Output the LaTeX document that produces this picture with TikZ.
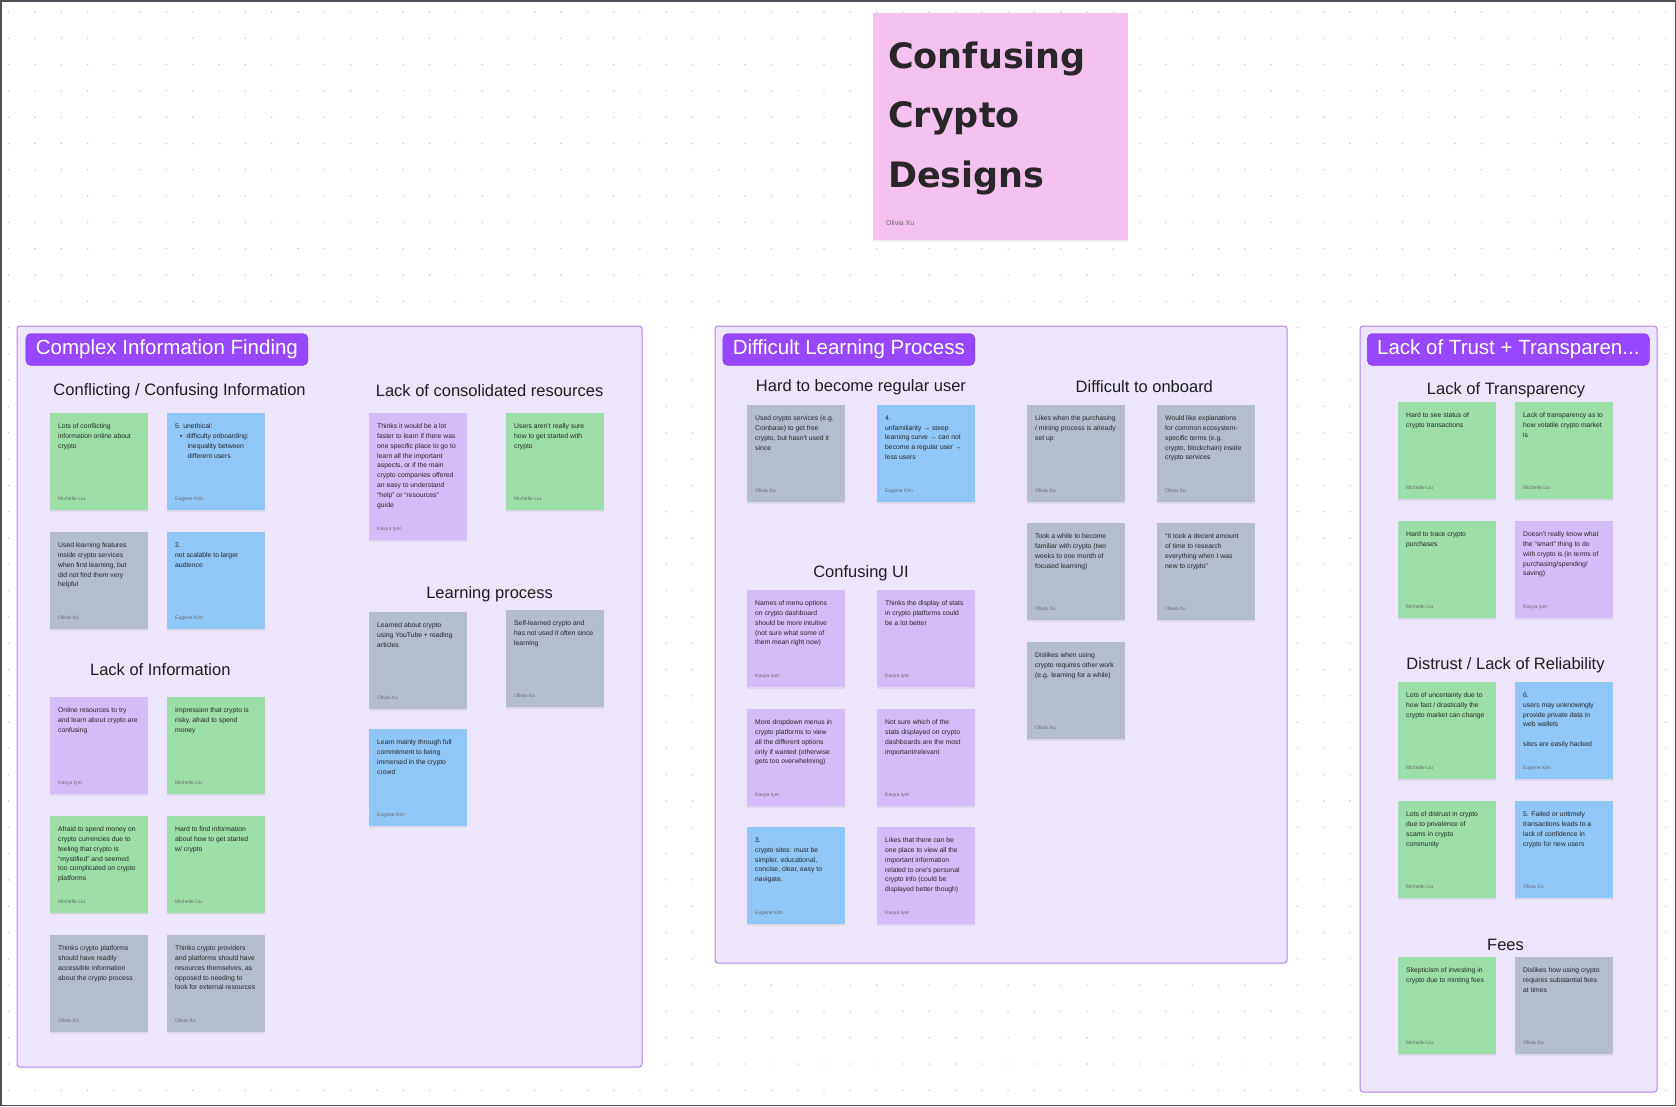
\documentclass[tikz,border=0pt]{standalone}
\usepackage{fontspec}
\setmainfont{Liberation Sans}
\newfontfamily\titlefont{DejaVu Sans}
\usetikzlibrary{shadows}

\definecolor{gridgray}{RGB}{200,200,204}
\definecolor{framegray}{RGB}{80,80,86}
\definecolor{panelfill}{RGB}{237,229,252}
\definecolor{panelline}{RGB}{180,128,247}
\definecolor{tagfill}{RGB}{151,71,255}
\definecolor{tagline}{RGB}{126,52,232}
\definecolor{greennote}{RGB}{156,222,167}
\definecolor{bluenote}{RGB}{143,199,248}
\definecolor{graynote}{RGB}{179,189,205}
\definecolor{purplenote}{RGB}{212,187,249}
\definecolor{pinknote}{RGB}{245,193,238}
\definecolor{notefg}{RGB}{38,38,40}
\definecolor{authorfg}{RGB}{105,105,110}
\definecolor{headfg}{RGB}{30,30,30}
\definecolor{titlefg}{RGB}{40,38,40}

% one sticky: name, corner, pad style, text, author
\newcommand{\stickynote}[5]{%
    \node[#3] (#1) at (#2) {};
    \node[notetext] (#1-text) at ([xshift=8pt, yshift=-10.5pt]#1.north west) {#4};
    \node[noteauthor] (#1-author) at ([xshift=8pt, yshift=9.5pt]#1.south west) {#5};
}

\begin{document}
\begin{tikzpicture}[
        x=1pt, y=-1pt,
        panel/.style={draw=panelline, fill=panelfill, line width=1pt, rounded corners=3pt},
        tag/.style={
                draw=tagline, fill=tagfill, rounded corners=5pt,
                text=white, anchor=west,
                font=\fontsize{20.5}{24}\selectfont,
                minimum height=32pt, inner xsep=8.5pt
            },
        heading/.style={text=headfg, inner sep=0pt, font=\fontsize{16.5}{20}\selectfont},
        sticky/.style={
                anchor=north west, inner sep=0pt,
                minimum width=98pt, minimum height=97pt,
                drop shadow={opacity=0.12, shadow xshift=0pt, shadow yshift=-1.5pt}
            },
        greenpad/.style={sticky, fill=greennote},
        bluepad/.style={sticky, fill=bluenote},
        graypad/.style={sticky, fill=graynote},
        purplepad/.style={sticky, fill=purplenote},
        pinkpad/.style={sticky, fill=pinknote},
        notetext/.style={
                anchor=north west, inner sep=0pt, align=left,
                text=notefg, font=\fontsize{6.8}{9.8}\selectfont
            },
        noteauthor/.style={anchor=base west, inner sep=0pt, text=authorfg, font=\fontsize{5.1}{6}\selectfont},
        titletext/.style={anchor=base west, inner sep=0pt, text=titlefg, font=\titlefont\bfseries\fontsize{35}{40}\selectfont}
    ]

    \useasboundingbox (0,0) rectangle (1676,1106);
    \fill[white] (0,0) rectangle (1676,1106);

    % dotted canvas
    \foreach \i in {0,...,63}
    \foreach \j in {0,...,41}
    \fill[gridgray] (8.7+26.3*\i, 12+26.3*\j) circle[radius=0.8pt];

    \draw[line width=1.5pt, draw=framegray] (0.75,0.75) rectangle (1675.25,1105.25);

    % title sticky
    \node[pinkpad, minimum width=255pt, minimum height=227pt] (title) at (873,13) {};
    \foreach \w [count=\i] in {Confusing,Crypto,Designs}
    \node[titletext] (title-\i) at (888,{68+59.5*(\i-1)}) {\w};
    \node[noteauthor, font=\fontsize{7}{8}\selectfont] (title-author) at (886,225) {Olivia Xu};

    % the three groups
    \draw[panel] (17,326) rectangle (642,1067);
    \draw[panel] (715,326) rectangle (1287,963);
    \draw[panel] (1360,326) rectangle (1657,1092);

    \node[tag, minimum width=282pt] (complex) at (25.7,349.5) {Complex Information Finding};
    \node[tag, minimum width=252pt] (learning) at (722.6,349.5) {Difficult Learning Process};
    \node[tag, minimum width=282pt] (trust) at (1367.1,349.5) {Lack of Trust + Transparen...};

    \node[heading] (conflicting) at (179.6,391) {Conflicting / Confusing Information};
    \node[heading] (consolidated) at (489.6,391) {Lack of consolidated resources};
    \node[heading] (lackinfo) at (160.3,670) {Lack of Information};
    \node[heading] (process) at (489.6,594) {Learning process};
    \node[heading] (regular) at (861,387) {Hard to become regular user};
    \node[heading] (onboard) at (1144.3,387) {Difficult to onboard};
    \node[heading] (confui) at (861,573) {Confusing UI};
    \node[heading] (transparency) at (1506,390) {Lack of Transparency};
    \node[heading] (distrust) at (1505.5,665) {Distrust / Lack of Reliability};
    \node[heading] (fees) at (1505.5,945) {Fees};

    % Complex Information Finding
    \stickynote{c1}{50,413}{greenpad}{Lots of conflicting\\information online about\\crypto}{Michelle Liu}
    \stickynote{c2}{167,413}{bluepad}{5. unethical:\\\hspace*{5pt}•\hspace{4pt}difficulty onboarding:\\\hspace*{12.5pt}inequality between\\\hspace*{12.5pt}different users}{Eugene Kim}
    \stickynote{c3}{50,532}{graypad}{Used learning features\\inside crypto services\\when first learning, but\\did not find them very\\helpful}{Olivia Xu}
    \stickynote{c4}{167,532}{bluepad}{2.\\not scalable to larger\\audience}{Eugene Kim}

    \stickynote{i1}{50,697}{purplepad}{Online resources to try\\and learn about crypto are\\confusing}{Kavya Iyer}
    \stickynote{i2}{167,697}{greenpad}{Impression that crypto is\\risky, afraid to spend\\money}{Michelle Liu}
    \stickynote{i3}{50,816}{greenpad}{Afraid to spend money on\\crypto currencies due to\\feeling that crypto is\\“mystified” and seemed\\too complicated on crypto\\platforms}{Michelle Liu}
    \stickynote{i4}{167,816}{greenpad}{Hard to find information\\about how to get started\\w/ crypto}{Michelle Liu}
    \stickynote{i5}{50,935}{graypad}{Thinks crypto platforms\\should have readily\\accessible information\\about the crypto process}{Olivia Xu}
    \stickynote{i6}{167,935}{graypad}{Thinks crypto providers\\and platforms should have\\resources themselves, as\\opposed to needing to\\look for external resources}{Olivia Xu}

    \stickynote{r1}{369,413}{purplepad, minimum height=127pt}{Thinks it would be a lot\\faster to learn if there was\\one specific place to go to\\learn all the important\\aspects, or if the main\\crypto companies offered\\an easy to understand\\“help” or “resources”\\guide}{Kavya Iyer}
    \stickynote{r2}{506,413}{greenpad}{Users aren't really sure\\how to get started with\\crypto}{Michelle Liu}

    \stickynote{p1}{369,612}{graypad}{Learned about crypto\\using YouTube + reading\\articles}{Olivia Xu}
    \stickynote{p2}{506,610}{graypad}{Self-learned crypto and\\has not used it often since\\learning}{Olivia Xu}
    \stickynote{p3}{369,729}{bluepad}{Learn mainly through full\\commitment to being\\immersed in the crypto\\crowd}{Eugene Kim}

    % Difficult Learning Process
    \stickynote{h1}{747,405}{graypad}{Used crypto services (e.g.\\Coinbase) to get free\\crypto, but hasn't used it\\since}{Olivia Xu}
    \stickynote{h2}{877,405}{bluepad}{4.\\unfamiliarity → steep\\learning curve → can not\\become a regular user →\\less users}{Eugene Kim}

    \stickynote{d1}{1027,405}{graypad}{Likes when the purchasing\\/ mining process is already\\set up}{Olivia Xu}
    \stickynote{d2}{1157,405}{graypad}{Would like explanations\\for common ecosystem-\\specific terms (e.g.\\crypto, blockchain) inside\\crypto services}{Olivia Xu}
    \stickynote{d3}{1027,523}{graypad}{Took a while to become\\familiar with crypto (two\\weeks to one month of\\focused learning)}{Olivia Xu}
    \stickynote{d4}{1157,523}{graypad}{“It took a decent amount\\of time to research\\everything when I was\\new to crypto”}{Olivia Xu}
    \stickynote{d5}{1027,642}{graypad}{Dislikes when using\\crypto requires other work\\(e.g. learning for a while)}{Olivia Xu}

    \stickynote{u1}{747,590}{purplepad}{Names of menu options\\on crypto dashboard\\should be more intuitive\\(not sure what some of\\them mean right now)}{Kavya Iyer}
    \stickynote{u2}{877,590}{purplepad}{Thinks the display of stats\\in crypto platforms could\\be a lot better}{Kavya Iyer}
    \stickynote{u3}{747,709}{purplepad}{More dropdown menus in\\crypto platforms to view\\all the different options\\only if wanted (otherwise\\gets too overwhelming)}{Kavya Iyer}
    \stickynote{u4}{877,709}{purplepad}{Not sure which of the\\stats displayed on crypto\\dashboards are the most\\important/relevant}{Kavya Iyer}
    \stickynote{u5}{747,827}{bluepad}{3.\\crypto sites: must be\\simpler, educational,\\concise, clear, easy to\\navigate.}{Eugene Kim}
    \stickynote{u6}{877,827}{purplepad}{Likes that there can be\\one place to view all the\\important information\\related to one's personal\\crypto info (could be\\displayed better though)}{Kavya Iyer}

    % Lack of Trust + Transparency
    \stickynote{t1}{1398,402}{greenpad}{Hard to see status of\\crypto transactions}{Michelle Liu}
    \stickynote{t2}{1515,402}{greenpad}{Lack of transparency as to\\how volatile crypto market\\is}{Michelle Liu}
    \stickynote{t3}{1398,521}{greenpad}{Hard to trace crypto\\purchases}{Michelle Liu}
    \stickynote{t4}{1515,521}{purplepad}{Doesn't really know what\\the “smart” thing to do\\with crypto is (in terms of\\purchasing/spending/\\saving)}{Kavya Iyer}

    \stickynote{s1}{1398,682}{greenpad}{Lots of uncertainty due to\\how fast / drastically the\\crypto market can change}{Michelle Liu}
    \stickynote{s2}{1515,682}{bluepad}{6.\\users may unknowingly\\provide private data in\\web wallets\\[9.8pt]sites are easily hacked}{Eugene Kim}
    \stickynote{s3}{1398,801}{greenpad}{Lots of distrust in crypto\\due to privalence of\\scams in crypto\\community}{Michelle Liu}
    \stickynote{s4}{1515,801}{bluepad}{5. Failed or untimely\\transactions leads to a\\lack of confidence in\\crypto for new users}{Olivia Xu}

    \stickynote{f1}{1398,957}{greenpad}{Skepticism of investing in\\crypto due to minting fees}{Michelle Liu}
    \stickynote{f2}{1515,957}{graypad}{Dislikes how using crypto\\requires substantial fees\\at times}{Olivia Xu}

\end{tikzpicture}
\end{document}
